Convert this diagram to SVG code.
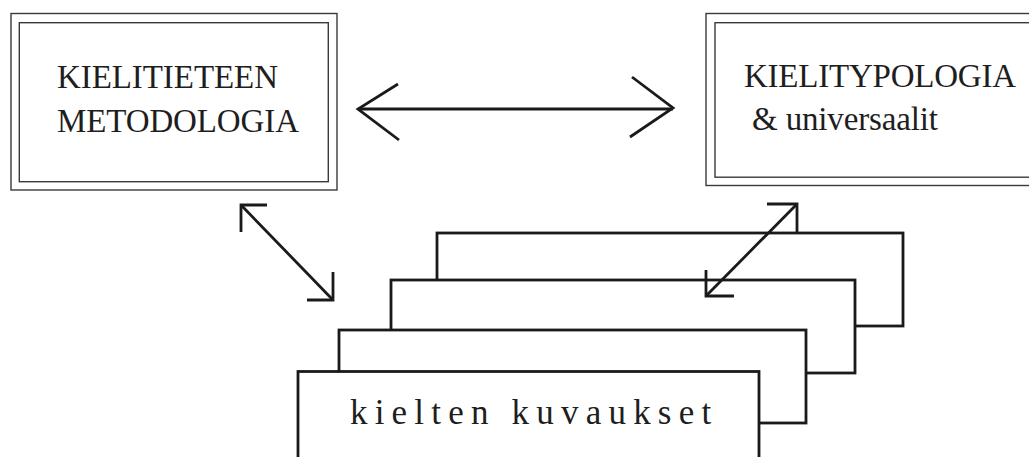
<svg xmlns="http://www.w3.org/2000/svg" width="1029" height="457" viewBox="0 0 1029 457">
  <style>
    .frame { fill: none; stroke: #3a3a3a; stroke-width: 1.4; }
    .sheet { fill: #ffffff; stroke: #1a1a1a; stroke-width: 2.8; stroke-linejoin: miter; }
    .label { font-family: "Liberation Serif", "Times New Roman", serif; fill: #1e1e1e; }
    .caps { font-size: 33px; }
    .spaced { font-size: 35px; letter-spacing: 7.2px; }
    .link { fill: none; stroke: #1a1a1a; stroke-width: 2.8; stroke-linecap: butt; stroke-linejoin: miter; }
  </style>

  <rect width="1029" height="457" fill="#ffffff"/>

  <!-- Methodology box with double frame -->
  <g id="node-metodologia">
    <rect class="frame" x="11" y="13.5" width="326" height="176.5"/>
    <rect class="frame" x="19.3" y="22.7" width="309" height="159"/>
    <text class="label caps" x="57" y="88" textLength="221" lengthAdjust="spacing">KIELITIETEEN</text>
    <text class="label caps" x="57" y="131.5" textLength="242" lengthAdjust="spacing">METODOLOGIA</text>
  </g>

  <!-- Typology box, runs past the right edge -->
  <g id="node-typologia">
    <rect class="frame" x="706" y="13.5" width="340" height="172"/>
    <rect class="frame" x="715" y="22.7" width="330" height="154.5"/>
    <text class="label caps" x="744" y="87" textLength="272" lengthAdjust="spacing">KIELITYPOLOGIA</text>
    <text class="label caps" x="752" y="130" textLength="186" lengthAdjust="spacing">&amp; universaalit</text>
  </g>

  <!-- Stack of language description sheets, back to front -->
  <g id="node-kuvaukset">
    <rect class="sheet" x="437" y="233" width="466" height="93"/>
    <rect class="sheet" x="391" y="280" width="464" height="93"/>
    <rect class="sheet" x="339" y="330" width="467" height="93"/>
    <rect class="sheet" x="298" y="371.5" width="461" height="100"/>
    <text class="label spaced" x="350" y="424">kielten kuvaukset</text>
  </g>

  <!-- Two-way arrows between the nodes -->
  <g id="connectors">
    <path class="link" d="M358,109 H673"/>
    <path class="link" d="M398,84 L358,109 L399,140"/>
    <path class="link" d="M632,77 L673,108 L630,137"/>

    <path class="link" d="M241,205 L333,300"/>
    <path class="link" d="M267,205 H241 V232"/>
    <path class="link" d="M333,272 V300 H307"/>

    <path class="link" d="M797,204 L706,296"/>
    <path class="link" d="M767,204 H797 V232"/>
    <path class="link" d="M706,270 V296 H734"/>
  </g>
</svg>
